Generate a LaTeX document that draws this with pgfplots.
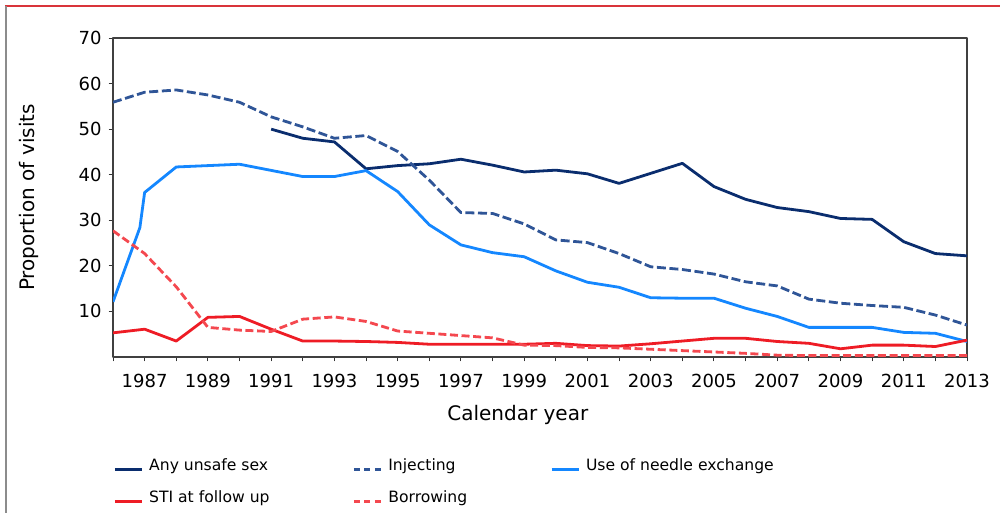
\documentclass[border=0pt]{standalone}
\usepackage{fontspec}
\setmainfont{DejaVu Sans}
\usepackage{pgfplots}
\pgfplotsset{compat=1.18}
\definecolor{sexnavy}{HTML}{0A2D6E}
\definecolor{injblue}{HTML}{2F5597}
\definecolor{needleblue}{HTML}{1487FF}
\definecolor{stired}{HTML}{EE1C25}
\definecolor{borrowred}{HTML}{F4484F}
\definecolor{framered}{HTML}{D9343A}

\begin{document}
\begin{tikzpicture}
\useasboundingbox (0pt,0pt) rectangle (500pt,256.5pt);
% outer frame (top and left edge only visible)
\draw[framered, line width=1.1pt] (2.5pt,253.5pt) -- (500pt,253.5pt);
\draw[black!45, line width=0.9pt] (3pt,0pt) -- (3pt,253.5pt);

\begin{axis}[
    at={(56.5pt,78pt)}, anchor=south west,
    scale only axis, width=427pt, height=159.5pt,
    xmin=1986, xmax=2013, ymin=0, ymax=70,
    ytick={10,20,...,70},
    xtick={1987,1989,...,2013},
    minor xtick={1986,1988,...,2012},
    tick pos=left, tick align=outside,
    major tick length=2.2pt, minor tick length=2.2pt,
    every tick/.style={black!80, line width=0.5pt},
    axis line style={black!75, line width=0.6pt},
    /pgf/number format/assume math mode=true,
    /pgf/number format/1000 sep={},
    ticklabel style={font=\fontsize{9}{10}\selectfont},
    xticklabel style={yshift=-3pt},
    xlabel={Calendar year},
    ylabel={Proportion of visits},
    label style={font=\fontsize{9.8}{11}\selectfont},
    every axis x label/.style={at={(axis description cs:0.474,-0.182)}, anchor=center},
    every axis y label/.style={at={(axis description cs:-0.098,0.5)}, rotate=90, anchor=center},
    legend columns=3,
    legend cell align=left,
    legend style={draw=none, fill=none, inner sep=0pt,
        font=\fontsize{7.8}{9}\selectfont,
        at={(axis description cs:0,-0.305)}, anchor=north west,
        /tikz/every even column/.append style={column sep=39.5pt},
        /tikz/every odd column/.append style={column sep=1pt},
        row sep=4.6pt},
    legend image code/.code={\draw[#1, line width=1.4pt] (0pt,-1.5pt) -- (13.5pt,-1.5pt);},
    line join=round,
]
% Any unsafe sex
\addplot[sexnavy, line width=1.4pt] coordinates {
 (1991,50.0) (1992,48.0) (1993,47.2) (1994,41.3) (1995,42.0) (1996,42.4)
 (1997,43.4) (1998,42.1) (1999,40.6) (2000,41.0) (2001,40.2) (2002,38.1)
 (2003,40.3) (2004,42.5) (2005,37.4) (2006,34.6) (2007,32.8) (2008,31.9)
 (2009,30.4) (2010,30.2) (2011,25.3) (2012,22.7) (2013,22.2)};
\addlegendentry{Any unsafe sex}
% Injecting
\addplot[injblue, line width=1.4pt, dash pattern=on 4.5pt off 1.8pt,
    legend image post style={dash pattern=on 3pt off 2.2pt}] coordinates {
 (1986,55.9) (1987,58.1) (1988,58.6) (1989,57.5) (1990,55.9) (1991,52.7)
 (1992,50.5) (1993,48.0) (1994,48.6) (1995,45.1) (1996,38.8) (1997,31.7)
 (1998,31.5) (1999,29.2) (2000,25.7) (2001,25.1) (2002,22.7) (2003,19.8)
 (2004,19.2) (2005,18.2) (2006,16.5) (2007,15.6) (2008,12.7) (2009,11.8)
 (2010,11.3) (2011,10.9) (2012,9.2) (2013,7.0)};
\addlegendentry{Injecting}
% Use of needle exchange
\addplot[needleblue, line width=1.4pt] coordinates {
 (1986,12.1) (1986.85,28.4) (1987,36.1) (1988,41.7) (1989,42.0) (1990,42.3)
 (1992,39.6) (1993,39.6) (1994,40.9) (1995,36.3) (1996,29.0) (1997,24.6)
 (1998,22.9) (1999,22.0) (2000,18.9) (2001,16.4) (2002,15.3) (2003,13.0)
 (2004,12.9) (2005,12.9) (2006,10.7) (2007,8.9) (2008,6.5) (2009,6.5)
 (2010,6.5) (2011,5.4) (2012,5.2) (2013,3.4)};
\addlegendentry{Use of needle exchange}
% STI at follow up
\addplot[stired, line width=1.4pt] coordinates {
 (1986,5.3) (1987,6.1) (1988,3.5) (1989,8.7) (1990,8.9) (1991,6.1)
 (1992,3.5) (1993,3.5) (1994,3.4) (1995,3.2) (1996,2.8) (1997,2.8)
 (1998,2.8) (1999,2.8) (2000,3.0) (2001,2.5) (2002,2.4) (2003,2.9)
 (2004,3.5) (2005,4.1) (2006,4.1) (2007,3.4) (2008,3.0) (2009,1.8)
 (2010,2.6) (2011,2.6) (2012,2.3) (2013,3.7)};
\addlegendentry{STI at follow up}
% Borrowing
\addplot[borrowred, line width=1.4pt, dash pattern=on 4pt off 1.8pt,
    legend image post style={dash pattern=on 3pt off 2.2pt}] coordinates {
 (1986,27.7) (1987,22.7) (1988,15.4) (1989,6.5) (1990,5.9) (1991,5.6)
 (1992,8.3) (1993,8.8) (1994,7.8) (1995,5.7) (1996,5.2) (1997,4.7)
 (1998,4.2) (1999,2.6) (2000,2.5) (2001,2.1) (2002,2.0) (2003,1.7)
 (2004,1.4) (2005,1.1) (2006,0.8) (2007,0.4) (2008,0.3) (2009,0.3)
 (2010,0.3) (2011,0.3) (2012,0.3) (2013,0.3)};
\addlegendentry{Borrowing}
\end{axis}
\end{tikzpicture}
\end{document}
